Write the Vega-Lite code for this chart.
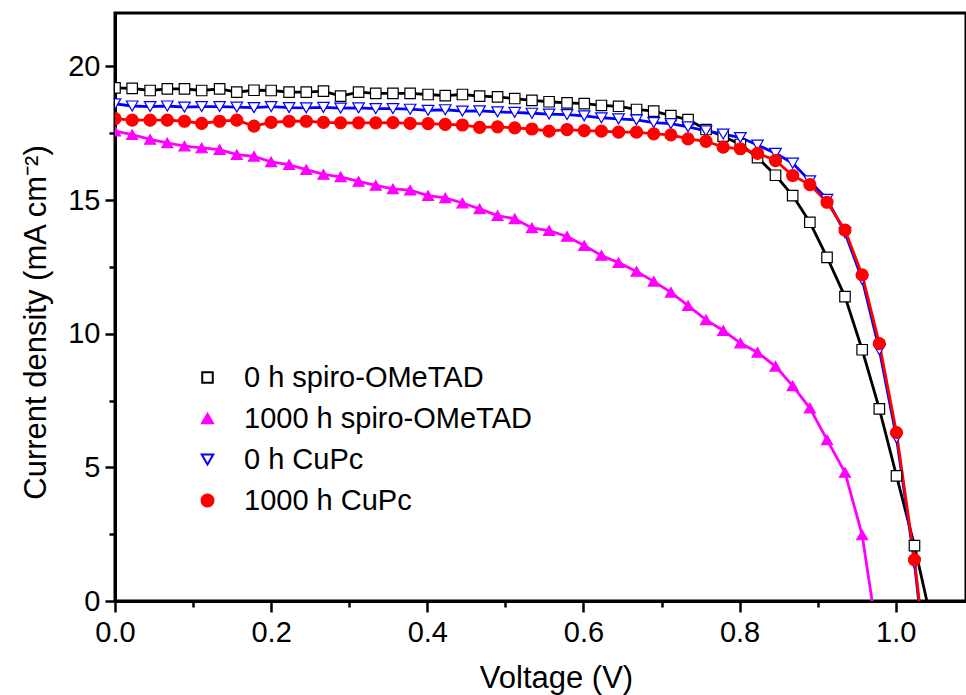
{
  "$schema": "https://vega.github.io/schema/vega-lite/v6.json",
  "width": 851,
  "height": 588,
  "autosize": {"type": "none"},
  "padding": {"left": 115, "top": 13, "right": 0, "bottom": 94},
  "background": "white",
  "config": {
    "font": "Liberation Sans",
    "view": {"stroke": "black", "strokeWidth": 3},
    "axis": {
      "grid": false, "domainColor": "black", "domainWidth": 3,
      "tickColor": "black", "tickWidth": 2.5,
      "labelColor": "black", "titleColor": "black",
      "labelFont": "Liberation Sans", "titleFont": "Liberation Sans",
      "titleFontWeight": "normal", "labelFontSize": 29, "titleFontSize": 31,
      "labelOverlap": false, "labelFlush": false
    },
    "legend": {
      "title": null, "orient": "none", "legendX": 78, "legendY": 350,
      "symbolSize": 400, "labelFontSize": 29, "labelFont": "Liberation Sans", "labelColor": "black",
      "labelOffset": 22, "labelLimit": 0, "rowPadding": 11, "padding": 0, "symbolStrokeWidth": 2
    }
  },
  "data": {"values": [
    {"series":"0 h spiro-OMeTAD","v":0,"j":19.20},{"series":"0 h spiro-OMeTAD","v":0.022,"j":19.18},{"series":"0 h spiro-OMeTAD","v":0.045,"j":19.10},{"series":"0 h spiro-OMeTAD","v":0.067,"j":19.16},{"series":"0 h spiro-OMeTAD","v":0.089,"j":19.16},{"series":"0 h spiro-OMeTAD","v":0.111,"j":19.10},{"series":"0 h spiro-OMeTAD","v":0.134,"j":19.16},{"series":"0 h spiro-OMeTAD","v":0.156,"j":19.04},{"series":"0 h spiro-OMeTAD","v":0.178,"j":19.11},{"series":"0 h spiro-OMeTAD","v":0.200,"j":19.10},{"series":"0 h spiro-OMeTAD","v":0.223,"j":19.04},{"series":"0 h spiro-OMeTAD","v":0.245,"j":19.04},{"series":"0 h spiro-OMeTAD","v":0.267,"j":19.08},{"series":"0 h spiro-OMeTAD","v":0.289,"j":18.89},{"series":"0 h spiro-OMeTAD","v":0.312,"j":19.04},{"series":"0 h spiro-OMeTAD","v":0.334,"j":18.99},{"series":"0 h spiro-OMeTAD","v":0.356,"j":18.99},{"series":"0 h spiro-OMeTAD","v":0.378,"j":18.99},{"series":"0 h spiro-OMeTAD","v":0.401,"j":18.95},{"series":"0 h spiro-OMeTAD","v":0.423,"j":18.91},{"series":"0 h spiro-OMeTAD","v":0.445,"j":18.95},{"series":"0 h spiro-OMeTAD","v":0.467,"j":18.89},{"series":"0 h spiro-OMeTAD","v":0.490,"j":18.86},{"series":"0 h spiro-OMeTAD","v":0.512,"j":18.80},{"series":"0 h spiro-OMeTAD","v":0.534,"j":18.73},{"series":"0 h spiro-OMeTAD","v":0.556,"j":18.68},{"series":"0 h spiro-OMeTAD","v":0.579,"j":18.64},{"series":"0 h spiro-OMeTAD","v":0.601,"j":18.61},{"series":"0 h spiro-OMeTAD","v":0.623,"j":18.54},{"series":"0 h spiro-OMeTAD","v":0.645,"j":18.51},{"series":"0 h spiro-OMeTAD","v":0.668,"j":18.39},{"series":"0 h spiro-OMeTAD","v":0.690,"j":18.33},{"series":"0 h spiro-OMeTAD","v":0.712,"j":18.16},{"series":"0 h spiro-OMeTAD","v":0.734,"j":18.01},{"series":"0 h spiro-OMeTAD","v":0.757,"j":17.64},{"series":"0 h spiro-OMeTAD","v":0.779,"j":17.39},{"series":"0 h spiro-OMeTAD","v":0.801,"j":17.08},{"series":"0 h spiro-OMeTAD","v":0.823,"j":16.59},{"series":"0 h spiro-OMeTAD","v":0.846,"j":15.93},{"series":"0 h spiro-OMeTAD","v":0.868,"j":15.17},{"series":"0 h spiro-OMeTAD","v":0.890,"j":14.17},{"series":"0 h spiro-OMeTAD","v":0.912,"j":12.86},{"series":"0 h spiro-OMeTAD","v":0.935,"j":11.39},{"series":"0 h spiro-OMeTAD","v":0.957,"j":9.40},{"series":"0 h spiro-OMeTAD","v":0.979,"j":7.19},{"series":"0 h spiro-OMeTAD","v":1.001,"j":4.68},{"series":"0 h spiro-OMeTAD","v":1.024,"j":2.07},{"series":"0 h spiro-OMeTAD","v":1.046,"j":-0.8},
    {"series":"1000 h spiro-OMeTAD","v":0,"j":17.58},{"series":"1000 h spiro-OMeTAD","v":0.022,"j":17.45},{"series":"1000 h spiro-OMeTAD","v":0.045,"j":17.27},{"series":"1000 h spiro-OMeTAD","v":0.067,"j":17.14},{"series":"1000 h spiro-OMeTAD","v":0.089,"j":17.02},{"series":"1000 h spiro-OMeTAD","v":0.111,"j":16.95},{"series":"1000 h spiro-OMeTAD","v":0.134,"j":16.89},{"series":"1000 h spiro-OMeTAD","v":0.156,"j":16.70},{"series":"1000 h spiro-OMeTAD","v":0.178,"j":16.64},{"series":"1000 h spiro-OMeTAD","v":0.200,"j":16.43},{"series":"1000 h spiro-OMeTAD","v":0.223,"j":16.33},{"series":"1000 h spiro-OMeTAD","v":0.245,"j":16.14},{"series":"1000 h spiro-OMeTAD","v":0.267,"j":15.96},{"series":"1000 h spiro-OMeTAD","v":0.289,"j":15.87},{"series":"1000 h spiro-OMeTAD","v":0.312,"j":15.70},{"series":"1000 h spiro-OMeTAD","v":0.334,"j":15.55},{"series":"1000 h spiro-OMeTAD","v":0.356,"j":15.42},{"series":"1000 h spiro-OMeTAD","v":0.378,"j":15.37},{"series":"1000 h spiro-OMeTAD","v":0.401,"j":15.17},{"series":"1000 h spiro-OMeTAD","v":0.423,"j":15.08},{"series":"1000 h spiro-OMeTAD","v":0.445,"j":14.89},{"series":"1000 h spiro-OMeTAD","v":0.467,"j":14.67},{"series":"1000 h spiro-OMeTAD","v":0.490,"j":14.42},{"series":"1000 h spiro-OMeTAD","v":0.512,"j":14.30},{"series":"1000 h spiro-OMeTAD","v":0.534,"j":13.96},{"series":"1000 h spiro-OMeTAD","v":0.556,"j":13.86},{"series":"1000 h spiro-OMeTAD","v":0.579,"j":13.64},{"series":"1000 h spiro-OMeTAD","v":0.601,"j":13.30},{"series":"1000 h spiro-OMeTAD","v":0.623,"j":12.93},{"series":"1000 h spiro-OMeTAD","v":0.645,"j":12.66},{"series":"1000 h spiro-OMeTAD","v":0.668,"j":12.33},{"series":"1000 h spiro-OMeTAD","v":0.690,"j":11.96},{"series":"1000 h spiro-OMeTAD","v":0.712,"j":11.55},{"series":"1000 h spiro-OMeTAD","v":0.734,"j":11.05},{"series":"1000 h spiro-OMeTAD","v":0.757,"j":10.52},{"series":"1000 h spiro-OMeTAD","v":0.779,"j":10.12},{"series":"1000 h spiro-OMeTAD","v":0.801,"j":9.65},{"series":"1000 h spiro-OMeTAD","v":0.823,"j":9.30},{"series":"1000 h spiro-OMeTAD","v":0.846,"j":8.78},{"series":"1000 h spiro-OMeTAD","v":0.868,"j":8.05},{"series":"1000 h spiro-OMeTAD","v":0.890,"j":7.22},{"series":"1000 h spiro-OMeTAD","v":0.912,"j":6.03},{"series":"1000 h spiro-OMeTAD","v":0.935,"j":4.81},{"series":"1000 h spiro-OMeTAD","v":0.957,"j":2.47},{"series":"1000 h spiro-OMeTAD","v":0.979,"j":-1.8},
    {"series":"0 h CuPc","v":0,"j":18.60},{"series":"0 h CuPc","v":0.022,"j":18.52},{"series":"0 h CuPc","v":0.045,"j":18.50},{"series":"0 h CuPc","v":0.067,"j":18.52},{"series":"0 h CuPc","v":0.089,"j":18.48},{"series":"0 h CuPc","v":0.111,"j":18.50},{"series":"0 h CuPc","v":0.134,"j":18.50},{"series":"0 h CuPc","v":0.156,"j":18.48},{"series":"0 h CuPc","v":0.178,"j":18.46},{"series":"0 h CuPc","v":0.200,"j":18.50},{"series":"0 h CuPc","v":0.223,"j":18.46},{"series":"0 h CuPc","v":0.245,"j":18.45},{"series":"0 h CuPc","v":0.267,"j":18.47},{"series":"0 h CuPc","v":0.289,"j":18.44},{"series":"0 h CuPc","v":0.312,"j":18.45},{"series":"0 h CuPc","v":0.334,"j":18.42},{"series":"0 h CuPc","v":0.356,"j":18.42},{"series":"0 h CuPc","v":0.378,"j":18.40},{"series":"0 h CuPc","v":0.401,"j":18.36},{"series":"0 h CuPc","v":0.423,"j":18.38},{"series":"0 h CuPc","v":0.445,"j":18.33},{"series":"0 h CuPc","v":0.467,"j":18.34},{"series":"0 h CuPc","v":0.490,"j":18.30},{"series":"0 h CuPc","v":0.512,"j":18.28},{"series":"0 h CuPc","v":0.534,"j":18.25},{"series":"0 h CuPc","v":0.556,"j":18.22},{"series":"0 h CuPc","v":0.579,"j":18.20},{"series":"0 h CuPc","v":0.601,"j":18.15},{"series":"0 h CuPc","v":0.623,"j":18.08},{"series":"0 h CuPc","v":0.645,"j":18.04},{"series":"0 h CuPc","v":0.668,"j":18.00},{"series":"0 h CuPc","v":0.690,"j":17.90},{"series":"0 h CuPc","v":0.712,"j":17.86},{"series":"0 h CuPc","v":0.734,"j":17.74},{"series":"0 h CuPc","v":0.757,"j":17.59},{"series":"0 h CuPc","v":0.779,"j":17.47},{"series":"0 h CuPc","v":0.801,"j":17.34},{"series":"0 h CuPc","v":0.823,"j":17.06},{"series":"0 h CuPc","v":0.846,"j":16.75},{"series":"0 h CuPc","v":0.868,"j":16.38},{"series":"0 h CuPc","v":0.890,"j":15.72},{"series":"0 h CuPc","v":0.912,"j":15.03},{"series":"0 h CuPc","v":0.935,"j":13.78},{"series":"0 h CuPc","v":0.957,"j":12.03},{"series":"0 h CuPc","v":0.979,"j":9.40},{"series":"0 h CuPc","v":1.001,"j":6.10},{"series":"0 h CuPc","v":1.024,"j":1.42},{"series":"0 h CuPc","v":1.046,"j":-4.4},
    {"series":"1000 h CuPc","v":0,"j":18.05},{"series":"1000 h CuPc","v":0.022,"j":17.99},{"series":"1000 h CuPc","v":0.045,"j":17.99},{"series":"1000 h CuPc","v":0.067,"j":17.99},{"series":"1000 h CuPc","v":0.089,"j":17.95},{"series":"1000 h CuPc","v":0.111,"j":17.87},{"series":"1000 h CuPc","v":0.134,"j":17.95},{"series":"1000 h CuPc","v":0.156,"j":17.99},{"series":"1000 h CuPc","v":0.178,"j":17.77},{"series":"1000 h CuPc","v":0.200,"j":17.91},{"series":"1000 h CuPc","v":0.223,"j":17.95},{"series":"1000 h CuPc","v":0.245,"j":17.95},{"series":"1000 h CuPc","v":0.267,"j":17.91},{"series":"1000 h CuPc","v":0.289,"j":17.89},{"series":"1000 h CuPc","v":0.312,"j":17.89},{"series":"1000 h CuPc","v":0.334,"j":17.89},{"series":"1000 h CuPc","v":0.356,"j":17.90},{"series":"1000 h CuPc","v":0.378,"j":17.87},{"series":"1000 h CuPc","v":0.401,"j":17.86},{"series":"1000 h CuPc","v":0.423,"j":17.83},{"series":"1000 h CuPc","v":0.445,"j":17.81},{"series":"1000 h CuPc","v":0.467,"j":17.72},{"series":"1000 h CuPc","v":0.490,"j":17.74},{"series":"1000 h CuPc","v":0.512,"j":17.70},{"series":"1000 h CuPc","v":0.534,"j":17.66},{"series":"1000 h CuPc","v":0.556,"j":17.58},{"series":"1000 h CuPc","v":0.579,"j":17.64},{"series":"1000 h CuPc","v":0.601,"j":17.60},{"series":"1000 h CuPc","v":0.623,"j":17.58},{"series":"1000 h CuPc","v":0.645,"j":17.54},{"series":"1000 h CuPc","v":0.668,"j":17.54},{"series":"1000 h CuPc","v":0.690,"j":17.48},{"series":"1000 h CuPc","v":0.712,"j":17.44},{"series":"1000 h CuPc","v":0.734,"j":17.29},{"series":"1000 h CuPc","v":0.757,"j":17.20},{"series":"1000 h CuPc","v":0.779,"j":16.98},{"series":"1000 h CuPc","v":0.801,"j":16.92},{"series":"1000 h CuPc","v":0.823,"j":16.75},{"series":"1000 h CuPc","v":0.846,"j":16.48},{"series":"1000 h CuPc","v":0.868,"j":15.92},{"series":"1000 h CuPc","v":0.890,"j":15.58},{"series":"1000 h CuPc","v":0.912,"j":14.92},{"series":"1000 h CuPc","v":0.935,"j":13.88},{"series":"1000 h CuPc","v":0.957,"j":12.20},{"series":"1000 h CuPc","v":0.979,"j":9.63},{"series":"1000 h CuPc","v":1.001,"j":6.30},{"series":"1000 h CuPc","v":1.024,"j":1.54},{"series":"1000 h CuPc","v":1.046,"j":-4.0}
  ]},
  "encoding": {
    "x": {
      "field": "v", "type": "quantitative",
      "scale": {"domain": [0, 1.09], "nice": false, "zero": false},
      "axis": {
        "title": "Voltage (V)",
        "values": [0, 0.1, 0.2, 0.3, 0.4, 0.5, 0.6, 0.7, 0.8, 0.9, 1.0],
        "format": ".1f",
        "labelExpr": "round(datum.value*10) % 2 === 0 ? datum.label : ''",
        "tickSize": {"condition": {"test": "round(datum.value*10) % 2 === 1", "value": 6}, "value": 11},
        "labelPadding": 6,
        "titleX": 441, "titleY": 86, "titleBaseline": "alphabetic"
      }
    },
    "y": {
      "field": "j", "type": "quantitative",
      "scale": {"domain": [0, 22], "nice": false},
      "axis": {
        "title": "Current density (mA cm⁻²)",
        "values": [0, 2.5, 5, 7.5, 10, 12.5, 15, 17.5, 20],
        "labelExpr": "datum.value % 5 === 0 ? datum.label : ''",
        "tickSize": {"condition": {"test": "datum.value % 5 !== 0", "value": 6}, "value": 10},
        "labelPadding": 5,
        "titleX": -70, "titleY": 309, "titleBaseline": "alphabetic"
      }
    },
    "stroke": {
      "field": "series", "type": "nominal",
      "scale": {"domain": ["0 h spiro-OMeTAD", "1000 h spiro-OMeTAD", "0 h CuPc", "1000 h CuPc"], "range": ["#000000", "#ff00ff", "#0000ff", "#ff0000"]}
    }
  },
  "layer": [
    {
      "mark": {"type": "line", "strokeWidth": 2.8, "clip": true},
      "encoding": {}
    },
    {
      "mark": {"type": "point", "filled": true, "strokeWidth": 1.2, "opacity": 1, "clip": true},
      "encoding": {
        "fill": {
          "field": "series", "type": "nominal",
          "scale": {"domain": ["0 h spiro-OMeTAD", "1000 h spiro-OMeTAD", "0 h CuPc", "1000 h CuPc"], "range": ["#ffffff", "#ff00ff", "#ffffff", "#ff0000"]}
        },
        "size": {
          "field": "series", "type": "nominal",
          "scale": {"domain": ["0 h spiro-OMeTAD", "1000 h spiro-OMeTAD", "0 h CuPc", "1000 h CuPc"], "range": [110, 144, 144, 81]}
        },
        "shape": {
          "field": "series", "type": "nominal",
          "scale": {"domain": ["0 h spiro-OMeTAD", "1000 h spiro-OMeTAD", "0 h CuPc", "1000 h CuPc"], "range": ["square", "triangle-up", "triangle-down", "circle"]}
        }
      }
    }
  ]
}
